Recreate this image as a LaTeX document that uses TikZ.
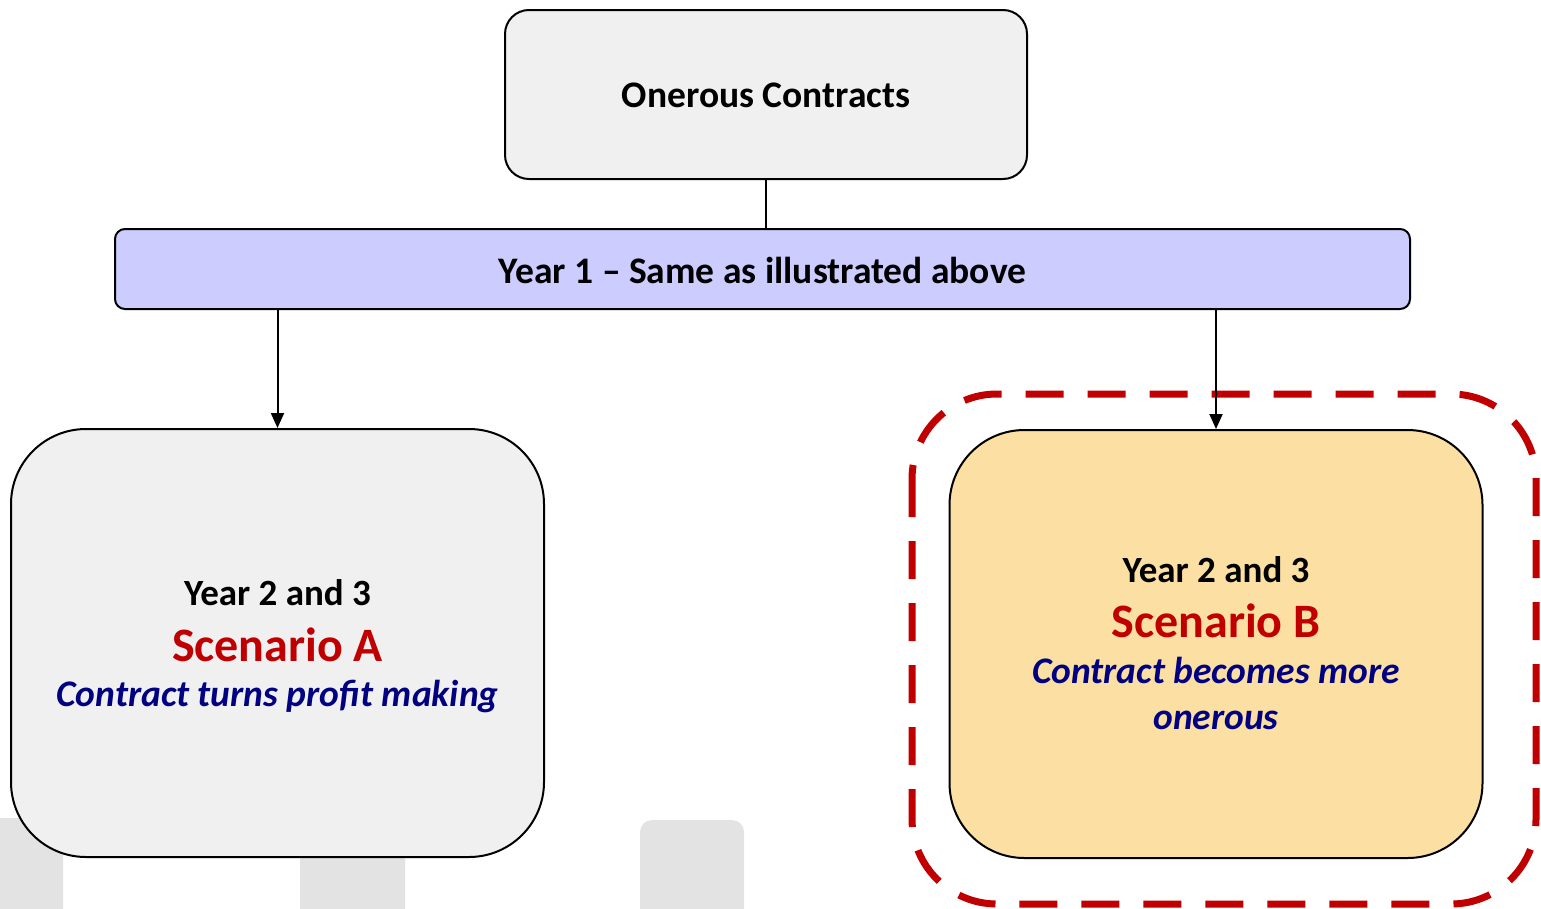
\documentclass[tikz,border=0pt]{standalone}
\usepackage{fontspec}
\setmainfont{Carlito}
\usetikzlibrary{arrows.meta}
\definecolor{boxgray}{HTML}{F0F0F0}
\definecolor{bggray}{HTML}{E3E3E3}
\definecolor{barblue}{HTML}{CCCCFF}
\definecolor{boxorange}{HTML}{FCDFA2}
\definecolor{darkred}{HTML}{C00000}
\definecolor{navy}{HTML}{000080}
\tikzset{
  boxbase/.style={draw=black, line width=2pt, inner sep=0pt},
  topbox/.style={boxbase, fill=boxgray, rounded corners=24pt, minimum width=522pt, minimum height=169pt},
  barbox/.style={boxbase, fill=barblue, rounded corners=10pt, minimum width=1295pt, minimum height=80pt},
  bigbox/.style={boxbase, rounded corners=75pt, minimum width=533pt, minimum height=428pt},
  conn/.style={line width=2pt, -{Triangle[length=15pt,width=13pt]}},
  plainconn/.style={line width=2pt},
  highlight/.style={draw=darkred, line width=7pt, dash pattern=on 38pt off 24pt, rounded corners=85pt},
  bgshape/.style={fill=bggray, draw=none, rounded corners=12pt},
  lbl/.style={anchor=base, inner sep=0pt},
  titletxt/.style={lbl, font=\fontsize{37.5}{45}\selectfont\bfseries},
  yeartxt/.style={lbl, font=\fontsize{37}{44}\selectfont\bfseries},
  scentxt/.style={lbl, font=\fontsize{48}{56}\selectfont\bfseries, text=darkred},
  conttxt/.style={lbl, font=\fontsize{37.5}{45}\selectfont\bfseries\itshape, text=navy},
}
\begin{document}
\begin{tikzpicture}[x=1pt,y=-1pt]
\useasboundingbox (0,0) rectangle (1541,908);
% background fragments
\fill[bgshape] (-20,818) rectangle (63,930);
\fill[bgshape] (300,830) rectangle (405,930);
\fill[bgshape] (640,820) rectangle (744,930);
% dashed highlight
\draw[highlight] (912,394) rectangle (1536,904);
% boxes
\node[topbox] (top) at (766,94.5) {};
\node[barbox] (bar) at (762.5,269) {};
\node[bigbox, fill=boxgray] (a) at (277.5,643) {};
\node[bigbox, fill=boxorange] (b) at (1216,644) {};
% texts
\node[titletxt] (toptxt) at (766,107) {Onerous Contracts};
\node[titletxt] (bartxt) at (762.5,283) {Year 1 -- Same as illustrated above};
\node[yeartxt] (ayear) at (277.5,605) {Year 2 and 3};
\node[scentxt] (ascen) at (277.5,661) {Scenario A};
\node[conttxt] (acont) at (277.5,706) {Contract turns profit making};
\node[yeartxt] (byear) at (1216,582) {Year 2 and 3};
\node[scentxt] (bscen) at (1216,637) {Scenario B};
\node[conttxt] (bcont1) at (1216,683) {Contract becomes more};
\node[conttxt] (bcont2) at (1216,729) {onerous};
% connectors
\draw[plainconn] (top.south) -- (top.south |- bar.north);
\draw[conn] (a.north |- bar.south) -- (a.north);
\draw[conn] (b.north |- bar.south) -- (b.north);
\end{tikzpicture}
\end{document}
